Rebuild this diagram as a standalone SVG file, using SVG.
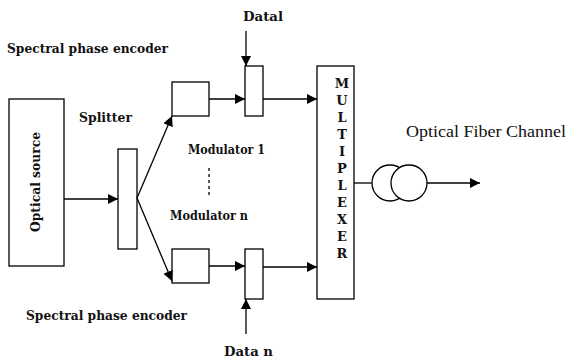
<svg xmlns="http://www.w3.org/2000/svg" width="567" height="360" viewBox="0 0 567 360">
<style>
.box{fill:#fff;stroke:#000;stroke-width:1.3}
.ln{fill:none;stroke:#000;stroke-width:1.3}
.b{font-family:"DejaVu Serif","Liberation Serif",serif;font-weight:700;font-size:13px;fill:#111}
.r{font-family:"Liberation Serif","Times New Roman","DejaVu Serif",serif;font-size:16px;fill:#111}
</style>
<defs>
<marker id="ah" viewBox="0 0 10 10" refX="10" refY="5" markerWidth="10" markerHeight="10" markerUnits="userSpaceOnUse" orient="auto">
<path d="M0,0 L10,5 L0,10 z" fill="#000"/>
</marker>
</defs>
<rect width="567" height="360" fill="#fff"/>
<g id="labels">
<text class="b" x="7" y="53" textLength="161" lengthAdjust="spacingAndGlyphs">Spectral phase encoder</text>
<text class="b" x="26" y="320" textLength="161" lengthAdjust="spacingAndGlyphs">Spectral phase encoder</text>
<text class="b" x="79" y="122" font-size="14" textLength="53" lengthAdjust="spacingAndGlyphs">Splitter</text>
<text class="b" x="188" y="154" textLength="77" lengthAdjust="spacingAndGlyphs">Modulator 1</text>
<text class="b" x="170" y="220" textLength="78" lengthAdjust="spacingAndGlyphs">Modulator n</text>
<text class="b" x="243" y="21" textLength="40" lengthAdjust="spacingAndGlyphs">Datal</text>
<text class="b" x="224" y="356" textLength="49" lengthAdjust="spacingAndGlyphs">Data n</text>
<text class="r" x="406" y="137" textLength="160" lengthAdjust="spacingAndGlyphs">Optical Fiber Channel</text>
</g>
<g id="source">
<rect class="box" x="9" y="99" width="55" height="167"/>
<text class="b" font-size="14" transform="translate(40,232) rotate(-90)" textLength="100" lengthAdjust="spacingAndGlyphs">Optical source</text>
</g>
<g id="splitter"><rect class="box" x="118" y="149" width="19" height="100"/></g>
<g id="encoder1"><rect class="box" x="172" y="82" width="37" height="34"/></g>
<g id="encodern"><rect class="box" x="172" y="249" width="37" height="34"/></g>
<g id="modulator1"><rect class="box" x="245" y="66" width="18" height="50"/></g>
<g id="modulatorn"><rect class="box" x="245" y="249" width="18" height="50"/></g>
<g id="multiplexer">
<rect class="box" x="317" y="66" width="37" height="233"/>
<g class="b" text-anchor="middle" font-size="14">
<text x="342" y="88">M</text>
<text x="342" y="105">U</text>
<text x="342" y="122">L</text>
<text x="342" y="139">T</text>
<text x="342" y="156">I</text>
<text x="342" y="173">P</text>
<text x="342" y="190">L</text>
<text x="342" y="207">E</text>
<text x="342" y="224">X</text>
<text x="342" y="241">E</text>
<text x="342" y="258">R</text>
</g>
</g>
<g id="fiber">
<circle class="ln" cx="390" cy="183" r="18"/>
<circle class="box" cx="409" cy="183" r="18"/>
</g>
<g id="connectors">
<line class="ln" x1="64" y1="199" x2="118" y2="199" marker-end="url(#ah)"/>
<line class="ln" x1="137" y1="198" x2="172" y2="116" marker-end="url(#ah)"/>
<line class="ln" x1="137" y1="198" x2="172" y2="281" marker-end="url(#ah)"/>
<line class="ln" x1="209" y1="99" x2="245" y2="99" marker-end="url(#ah)"/>
<line class="ln" x1="209" y1="266" x2="245" y2="266" marker-end="url(#ah)"/>
<line class="ln" x1="246" y1="31" x2="246" y2="66" marker-end="url(#ah)"/>
<line class="ln" x1="246" y1="334" x2="246" y2="299" marker-end="url(#ah)"/>
<line class="ln" x1="263" y1="99" x2="317" y2="99" marker-end="url(#ah)"/>
<line class="ln" x1="263" y1="267" x2="317" y2="267" marker-end="url(#ah)"/>
<line class="ln" x1="354" y1="183" x2="372" y2="183"/>
<line class="ln" x1="427" y1="183" x2="480" y2="183" marker-end="url(#ah)"/>
<line class="ln" x1="209" y1="168" x2="209" y2="198" stroke-dasharray="3,3"/>
</g>
</svg>
